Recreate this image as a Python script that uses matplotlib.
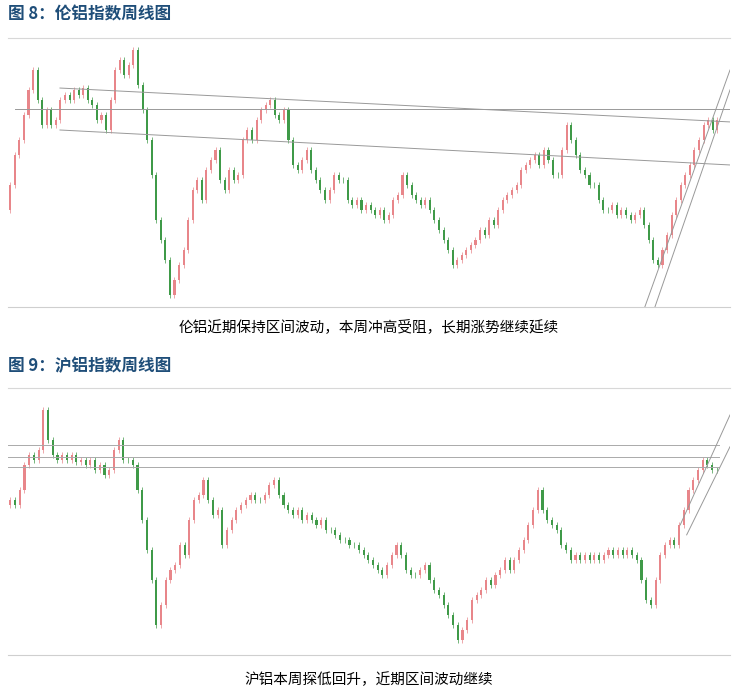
import matplotlib
matplotlib.use("Agg")
import matplotlib.pyplot as plt

plt.rcParams["font.family"] = ["Noto Sans CJK SC", "DejaVu Sans"]

title1 = "图 8：伦铝指数周线图"
caption1 = "伦铝近期保持区间波动，本周冲高受阻，长期涨势继续延续"
title2 = "图 9：沪铝指数周线图"
caption2 = "沪铝本周探低回升，近期区间波动继续"

# weekly closes, read as chart-height readings (larger = lower price)
lme_close = [210,185,155,140,115,90,70,100,125,110,125,120,100,95,100,90,95,88,100,105,120,115,130,100,70,60,75,65,50,85,
             110,140,175,220,240,260,295,280,265,250,220,190,180,200,170,160,150,180,190,170,180,175,140,130,140,120,110,105,100,115,
             120,110,140,165,170,160,150,170,180,190,200,190,175,180,180,200,205,200,210,205,210,215,210,220,215,200,195,175,185,195,
             200,205,200,210,220,230,240,250,265,260,255,250,245,240,230,235,220,225,210,200,195,190,185,170,165,160,155,165,150,160,
             175,175,150,125,140,155,170,175,185,185,200,210,210,205,215,210,215,220,215,210,225,240,260,265,250,235,215,200,185,175,
             165,150,140,125,120,130,120]
shfe_close = [505,500,505,490,465,455,460,450,410,440,455,460,455,460,455,462,460,465,460,470,465,475,470,450,440,460,460,465,490,520,
              550,580,625,605,580,570,565,545,555,520,500,495,480,500,515,510,545,530,520,510,505,500,495,500,500,495,485,480,495,505,
              510,515,510,520,515,520,525,520,530,530,535,540,540,545,545,550,555,560,565,570,575,565,555,545,555,570,575,575,570,565,
              580,590,595,605,615,625,640,630,620,600,595,590,580,585,575,570,560,570,560,550,540,525,510,490,510,520,525,530,545,550,560,
              555,560,555,560,555,560,555,550,555,550,555,550,555,560,580,600,605,580,555,545,540,545,525,510,490,480,470,460,465,470,470]

UP = "#e8868a"
DOWN = "#3f9a48"

fig = plt.figure(figsize=(7.38, 6.95), dpi=100)

def candles(ax, closes, top, bottom):
    n = len(closes)
    for i in range(1, n):
        o, c = closes[i - 1], closes[i]
        col = UP if c < o else DOWN
        hi = min(o, c) - 3
        lo = max(o, c) + 3
        ax.vlines(i, hi, lo, color=col, lw=0.5)
        ax.bar(i, abs(c - o) + 0.8, bottom=min(o, c) - 0.4, width=0.45, color=col, lw=0)
    ax.set_ylim(bottom, top)
    ax.set_xlim(0.5, n + 1.8)
    for s in ["left", "right"]:
        ax.spines[s].set_visible(False)
    ax.spines["top"].set_color("#d8d8d8")
    ax.spines["bottom"].set_color("#cfcfcf")
    ax.set_xticks([]); ax.set_yticks([])

ax1 = fig.add_axes([8/738, 1-307/695, 722/738, 269/695])
candles(ax1, lme_close, 38, 307)
ax1.axhline(109, xmin=0.01, color="#999999", lw=0.7)
kw = dict(transform=ax1.transAxes, color="#999999", lw=0.7)
ax1.plot([0.072, 1], [0.814, 0.688], **kw)
ax1.plot([0.072, 1], [0.658, 0.528], **kw)
ax1.plot([0.882, 1], [0, 0.881], **kw)
ax1.plot([0.896, 1], [0, 0.807], **kw)

ax2 = fig.add_axes([8/738, 1-655/695, 722/738, 267/695])
candles(ax2, shfe_close, 388, 655)
for h in [445, 457, 467]:
    ax2.axhline(h, xmin=0.0, xmax=0.985, color="#aaaaaa", lw=0.7)
kw2 = dict(transform=ax2.transAxes, color="#999999", lw=0.7)
ax2.plot([0.931, 1], [0.487, 0.899], **kw2)
ax2.plot([0.94, 1], [0.45, 0.78], **kw2)

tc = "#1f4e79"
fig.text(8/738, 1-14/695, title1, color=tc, fontsize=12, fontweight="bold", va="center")
fig.text(0.5, 1-327/695, caption1, color="black", fontsize=10.5, ha="center", va="center")
fig.text(8/738, 1-366/695, title2, color=tc, fontsize=12, fontweight="bold", va="center")
fig.text(0.5, 1-680/695, caption2, color="black", fontsize=10.5, ha="center", va="center")

fig.savefig("out.png", dpi=100)
